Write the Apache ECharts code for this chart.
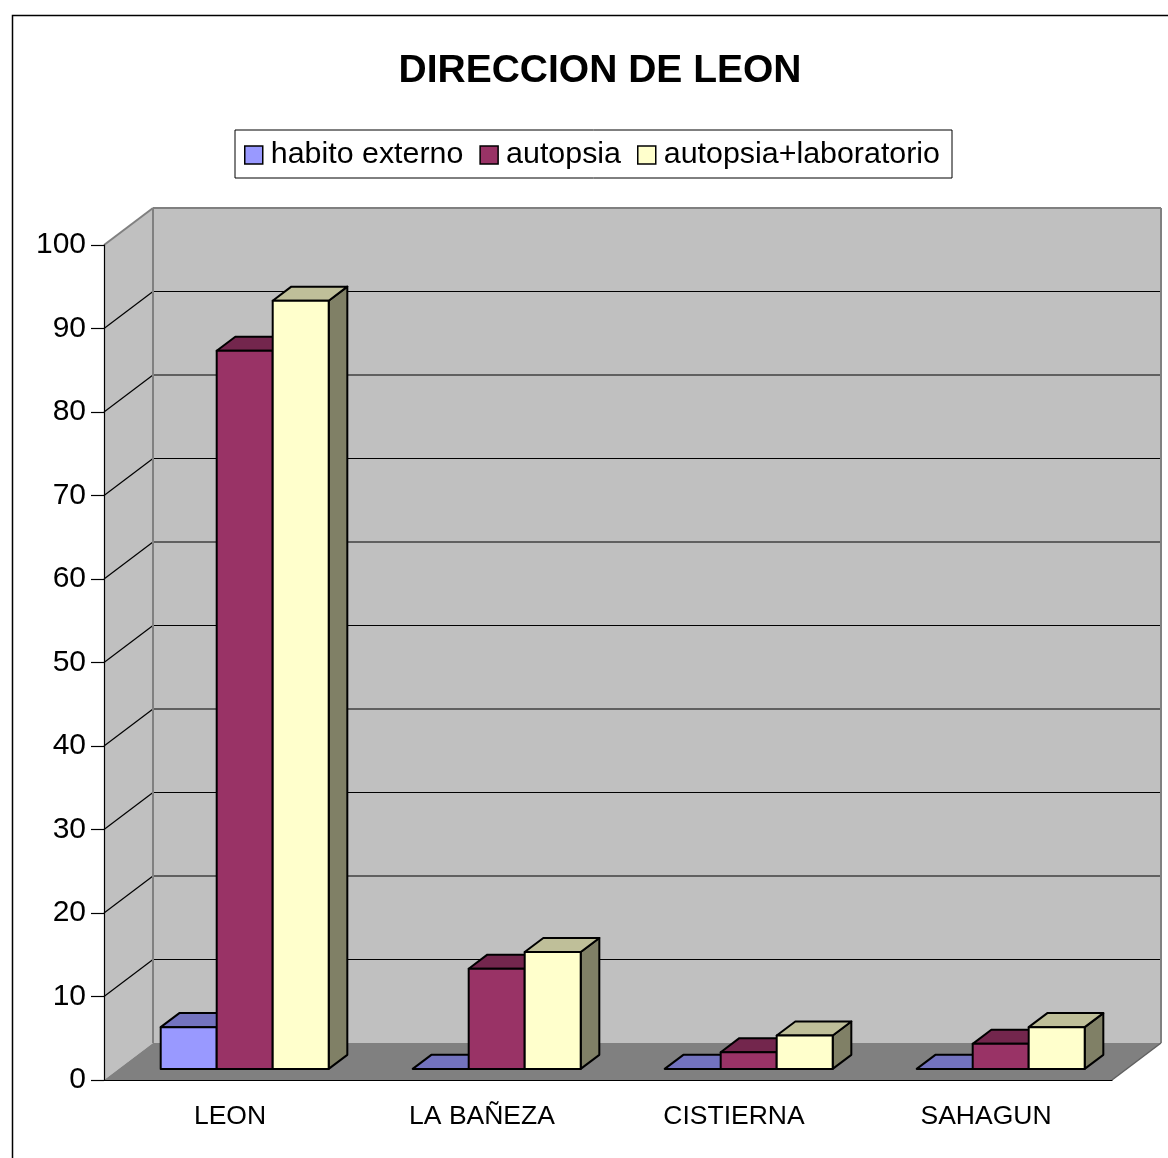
<!DOCTYPE html>
<html>
<head>
<meta charset="utf-8">
<script src="https://cdn.jsdelivr.net/npm/echarts@6/dist/echarts.min.js"></script>
<style>
html,body{margin:0;padding:0;background:#fff;}
#chart{width:1168px;height:1158px;}
</style>
</head>
<body>
<div id="chart"></div>
<script>
const categories = ['LEON', 'LA BAÑEZA', 'CISTIERNA', 'SAHAGUN'];
const seriesNames = ['habito externo', 'autopsia', 'autopsia+laboratorio'];
const habitoExterno = [5, 0, 0, 0];
const autopsia = [86, 12, 2, 3];
const autopsiaLab = [92, 14, 4, 5];
const yTickValues = [0, 10, 20, 30, 40, 50, 60, 70, 80, 90, 100];

const FONT = 'Arial, "Liberation Sans", sans-serif';
const DX = 49, DY = 37;          // depth offset of the 3D box
const FRONT = 0.3, BACK = 0.68;  // bar depth placement
const faceColors = [
  {front: '#9999FF', top: '#7373BF', side: '#4D4D80'},
  {front: '#993366', top: '#73264D', side: '#4D1A33'},
  {front: '#FFFFCC', top: '#BFBF99', side: '#808066'}
];

function renderWalls(params, api) {
  const cs = params.coordSys;
  const L = cs.x, R = cs.x + cs.width, T = cs.y, B = cs.y + cs.height;
  const children = [];
  children.push({type: 'polygon', shape: {points: [[L, T], [L + DX, T - DY], [L + DX, B - DY], [L, B]]},
    style: {fill: '#C0C0C0'}});
  children.push({type: 'polygon', shape: {points: [[L + DX, T - DY], [R + DX, T - DY], [R + DX, B - DY], [L + DX, B - DY]]},
    style: {fill: '#C0C0C0'}});
  children.push({type: 'polygon', shape: {points: [[L, B], [R, B], [R + DX, B - DY], [L + DX, B - DY]]},
    style: {fill: '#808080'}});
  yTickValues.forEach(function (v) {
    if (v === 0 || v === 100) return;
    const y = api.coord([0, v])[1];
    children.push({type: 'line', shape: {x1: L + DX, y1: y - DY, x2: R + DX, y2: y - DY},
      style: {stroke: '#000', lineWidth: 1.2}});
    children.push({type: 'line', shape: {x1: L, y1: y, x2: L + DX, y2: y - DY},
      style: {stroke: '#000', lineWidth: 1.2}});
  });
  const edge = {stroke: '#808080', lineWidth: 2};
  children.push({type: 'line', shape: {x1: L + DX, y1: T - DY, x2: L + DX, y2: B - DY}, style: edge});
  children.push({type: 'line', shape: {x1: L + DX, y1: T - DY, x2: R + DX, y2: T - DY}, style: edge});
  children.push({type: 'line', shape: {x1: R + DX, y1: T - DY, x2: R + DX, y2: B - DY}, style: edge});
  children.push({type: 'line', shape: {x1: L, y1: T, x2: L + DX, y2: T - DY}, style: edge});
  children.push({type: 'line', shape: {x1: R, y1: B, x2: R + DX, y2: B - DY}, style: {stroke: '#606060', lineWidth: 1.5}});
  return {type: 'group', children: children};
}

function makeBarRenderer(idx) {
  return function (params, api) {
    const c = api.value(0), v = api.value(1);
    const top = api.coord([c, v]);
    const base = api.coord([c, 0]);
    const catW = api.size([1, 0])[0];
    const w = catW / 4.5;
    const x0 = top[0] - 1.5 * w + idx * w;
    const x1 = x0 + w;
    const fx = FRONT * DX, fy = -FRONT * DY, bx = BACK * DX, by = -BACK * DY;
    const yt = top[1], yb = base[1];
    const col = faceColors[idx];
    const stroke = {stroke: '#000', lineWidth: 2, lineJoin: 'round'};
    const children = [];
    children.push({type: 'polygon', shape: {points: [[x1 + fx, yt + fy], [x1 + bx, yt + by], [x1 + bx, yb + by], [x1 + fx, yb + fy]]},
      style: Object.assign({fill: col.side}, stroke)});
    children.push({type: 'polygon', shape: {points: [[x0 + fx, yt + fy], [x1 + fx, yt + fy], [x1 + bx, yt + by], [x0 + bx, yt + by]]},
      style: Object.assign({fill: col.top}, stroke)});
    if (v > 0) {
      children.push({type: 'polygon', shape: {points: [[x0 + fx, yt + fy], [x1 + fx, yt + fy], [x1 + fx, yb + fy], [x0 + fx, yb + fy]]},
        style: Object.assign({fill: col.front}, stroke)});
    }
    return {type: 'group', children: children};
  };
}

const valueSets = [habitoExterno, autopsia, autopsiaLab];
const barSeries = seriesNames.map(function (name, i) {
  return {
    type: 'custom',
    name: name,
    z: 5,
    itemStyle: {color: faceColors[i].front},
    encode: {x: 0, y: 1},
    data: valueSets[i].map(function (v, k) { return [k, v]; }),
    renderItem: makeBarRenderer(i)
  };
});

const chart = echarts.init(document.getElementById('chart'), null, {renderer: 'canvas'});
chart.setOption({
  backgroundColor: '#fff',
  animation: false,
  title: {
    text: 'DIRECCION DE LEON',
    left: 595, textAlign: 'center', top: 47,
    textStyle: {fontFamily: FONT, fontSize: 39, fontWeight: 'bold', color: '#000'}
  },
  legend: {
    data: seriesNames,
    left: 235, top: 130,
    padding: [10, 12, 8, 9],
    borderColor: '#000', borderWidth: 1,
    icon: 'rect', itemWidth: 18, itemHeight: 18, itemGap: 16,
    itemStyle: {borderColor: '#000', borderWidth: 1.5},
    textStyle: {fontFamily: FONT, fontSize: 30.4, color: '#000', padding: [0, 0, 0, 3]}
  },
  graphic: [{
    type: 'rect', left: 10, top: 13, z: 100,
    shape: {width: 1300, height: 1300},
    style: {fill: 'none', stroke: '#000', lineWidth: 1.5}
  }],
  grid: {left: 104, right: 56, top: 245, bottom: 78},
  xAxis: {
    type: 'category', data: categories, z: 10,
    axisLine: {lineStyle: {color: '#000', width: 1.2}},
    axisTick: {length: 13, lineStyle: {color: '#000', width: 1.2}},
    axisLabel: {fontFamily: FONT, fontSize: 26.5, color: '#000', margin: 23},
    splitLine: {show: false}
  },
  yAxis: {
    type: 'value', min: 0, max: 100, interval: 10, z: 10,
    axisLine: {show: true, lineStyle: {color: '#000', width: 1.2}},
    axisTick: {show: true, length: 13, lineStyle: {color: '#000', width: 1.2}},
    axisLabel: {fontFamily: FONT, fontSize: 30, color: '#000', margin: 18},
    splitLine: {show: false}
  },
  series: [{
    type: 'custom', name: 'walls', z: 1, silent: true,
    encode: {x: 0, y: 1},
    data: [[0, 0]],
    renderItem: renderWalls
  }].concat(barSeries)
});
</script>
</body>
</html>
